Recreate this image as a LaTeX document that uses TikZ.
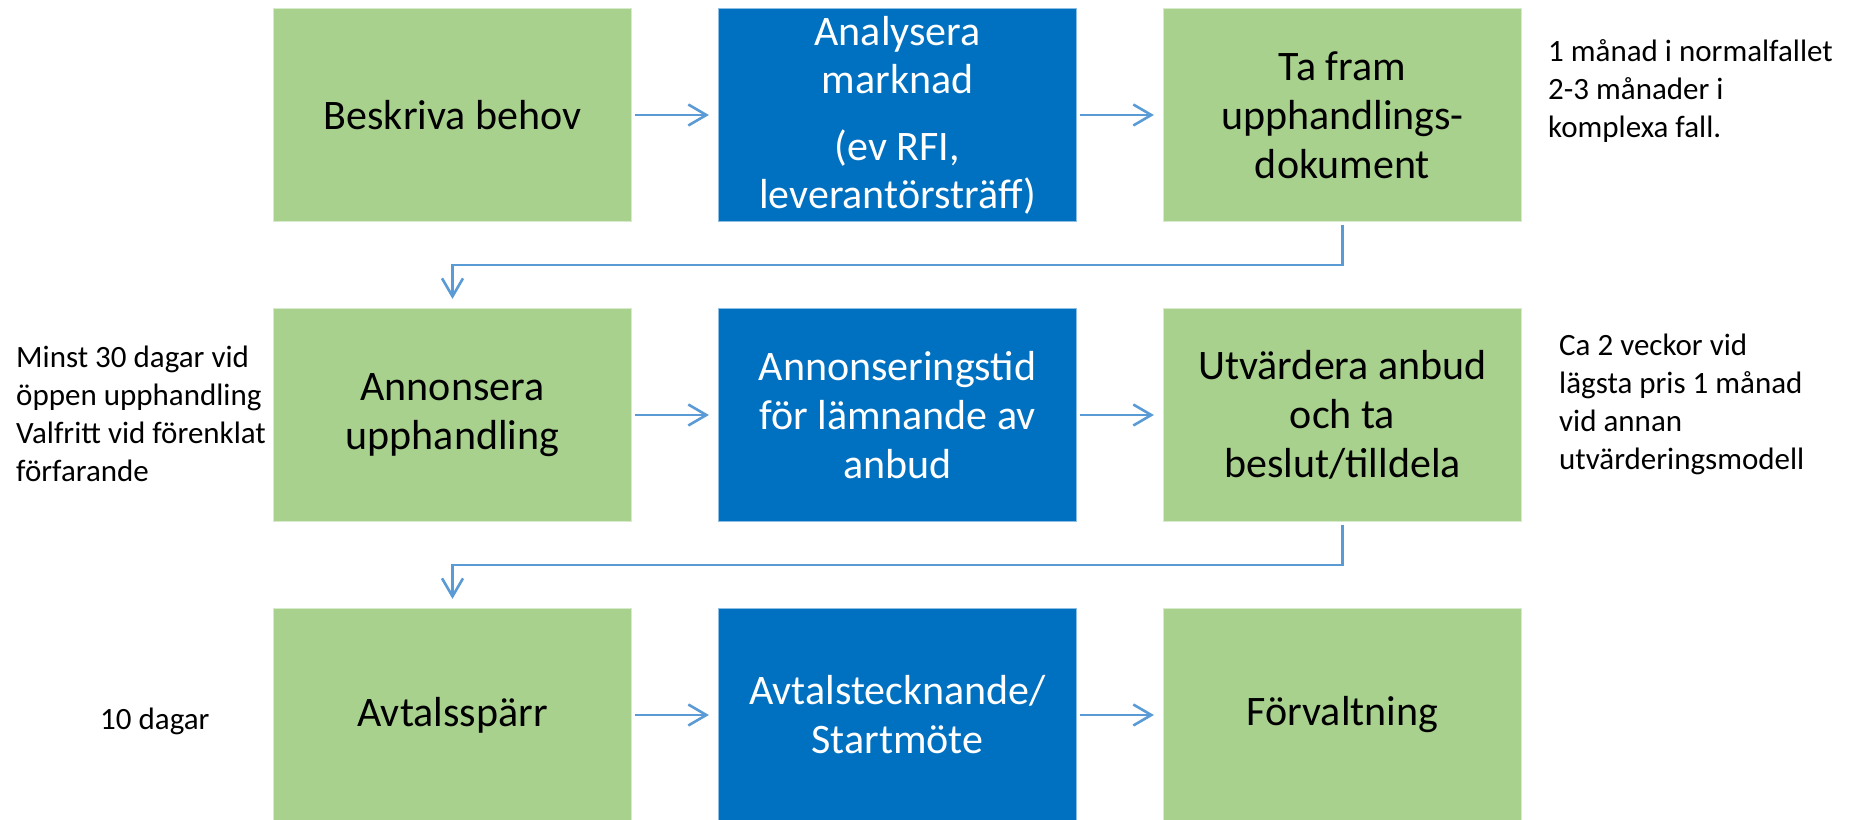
\documentclass[tikz,border=0pt]{standalone}
\usepackage{fontspec}
\setmainfont{Carlito}
\usetikzlibrary{arrows.meta}
\definecolor{boxgreen}{HTML}{A9D18E}
\definecolor{boxblue}{HTML}{0070C0}
\definecolor{linkblue}{HTML}{5B9BD5}
\begin{document}
\begin{tikzpicture}[x=1pt,y=-1pt,
  gbox/.style={rectangle, fill=boxgreen, draw=white!55!boxgreen, line width=1.2pt,
    minimum width=358pt, minimum height=213pt, inner sep=0pt, align=center,
    font=\fontsize{42}{49}\selectfont, text=black},
  bbox/.style={gbox, fill=boxblue, draw=white!55!boxblue, text=white},
  side/.style={inner sep=0pt, align=left, font=\fontsize{31}{38}\selectfont, text=black},
  arr/.style={draw=linkblue, line width=2.6pt, -{Straight Barb[length=18pt,width=21pt]}}]
\useasboundingbox (0,0) rectangle (1852,819);
\clip (0,0) rectangle (1852,819);
% side notes (drawn first so boxes cover overflow)
\node[side, anchor=north west] (n1) at (1548,39) {1 månad i normalfallet\\2-3 månader i\\komplexa fall.};
\node[side, anchor=north west] (n2) at (1559,334) {Ca 2 veckor vid\\lägsta pris 1 månad\\vid annan\\utvärderingsmodell};
\node[side, anchor=north west] (n3) at (16,346) {Minst 30 dagar vid\\öppen upphandling\\Valfritt vid förenklat\\förfarande};
\node[side, anchor=base west] (n4) at (100,729) {10 dagar};
% boxes
\node[gbox] (b1) at (452.5,115) {Beskriva behov};
\node[bbox, font=\fontsize{42}{48}\selectfont] (b2) at (897.5,115) {Analysera\\marknad\\[19pt](ev RFI,\\leverantörsträff)};
\node[gbox] (b3) at (1342.5,115) {Ta fram\\upphandlings-\\dokument};
\node[gbox] (b4) at (452.5,415) {Annonsera\\upphandling};
\node[bbox] (b5) at (897.5,415) {Annonseringstid\\för lämnande av\\anbud};
\node[gbox] (b6) at (1342.5,415) {Utvärdera anbud\\och ta\\beslut/tilldela};
\node[gbox] (b7) at (452.5,715) {Avtalsspärr};
\node[bbox] (b8) at (897.5,715) {Avtalstecknande/\\Startmöte};
\node[gbox] (b9) at (1342.5,715) {Förvaltning};
% arrows
\draw[arr] ([xshift=3pt]b1.east) -- ([xshift=-9pt]b2.west);
\draw[arr] ([xshift=3pt]b2.east) -- ([xshift=-9pt]b3.west);
\draw[arr] ([xshift=3pt]b4.east) -- ([xshift=-9pt]b5.west);
\draw[arr] ([xshift=3pt]b5.east) -- ([xshift=-9pt]b6.west);
\draw[arr] ([xshift=3pt]b7.east) -- ([xshift=-9pt]b8.west);
\draw[arr] ([xshift=3pt]b8.east) -- ([xshift=-9pt]b9.west);
\draw[arr] ([yshift=-3pt]b3.south) -- ++(0,40) -| ([yshift=9pt]b4.north);
\draw[arr] ([yshift=-3pt]b6.south) -- ++(0,40) -| ([yshift=9pt]b7.north);
\end{tikzpicture}
\end{document}
